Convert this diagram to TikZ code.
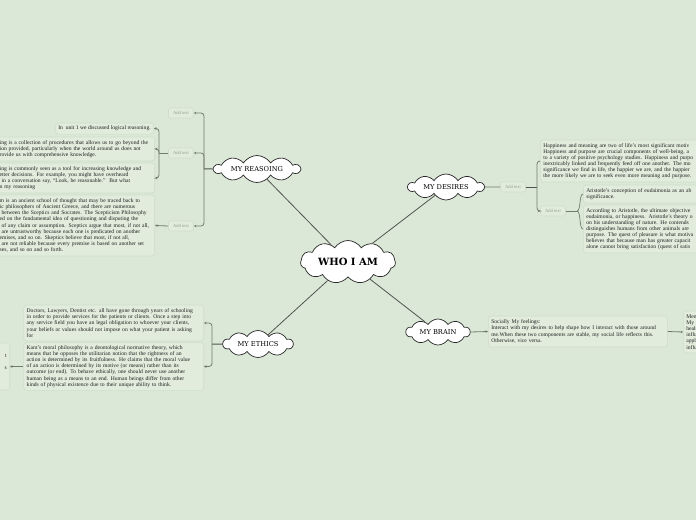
\documentclass[tikz,border=0pt]{standalone}
\usepackage{fontspec}
\setmainfont{Liberation Serif}
\newfontfamily\slabfont{DejaVu Serif}
\usetikzlibrary{shapes.symbols,arrows.meta}
\definecolor{bg}{RGB}{220,232,215}
\definecolor{boxfill}{RGB}{225,236,221}
\definecolor{boxline}{RGB}{207,221,202}
\definecolor{hubline}{RGB}{80,84,80}
\definecolor{brk}{RGB}{112,122,110}
\definecolor{addtxt}{RGB}{145,158,142}
\tikzset{
  bubble/.style={cloud, cloud ignores aspect, cloud puffs=10, cloud puff arc=115, draw=black!85, fill=white,
    line width=0.7pt, font=\slabfont\fontsize{6.7}{7.5}\selectfont, inner sep=0pt},
  tbox/.style={draw=boxline, fill=boxfill, rounded corners=3pt, line width=0.6pt,
    align=left, font=\fontsize{5.6}{6.1}\selectfont, inner sep=3pt, text=black!88},
  addbox/.style={draw=boxline, fill=boxfill, rounded corners=2pt, line width=0.6pt,
    font=\fontsize{4.6}{5}\selectfont, text=addtxt, minimum width=25pt, minimum height=10pt, inner sep=1pt},
  hub/.style={draw=hubline, line width=0.8pt},
  brkline/.style={draw=brk, line width=0.8pt, rounded corners=3pt},
  brkarrow/.style={brkline, -{Stealth[length=2.5pt,width=2.5pt]}}
}
\begin{document}
\begin{tikzpicture}[x=1pt,y=-1pt]
\fill[bg] (0,0) rectangle (696,520);
\useasboundingbox (0,0) rectangle (696,520);

% central and main clouds
\node[bubble, cloud puffs=11, minimum width=95pt, minimum height=43pt, font=\slabfont\bfseries\fontsize{10}{12}\selectfont] (who) at (348,262) {WHO I AM};
\node[bubble, minimum width=86pt, minimum height=27pt] (reason) at (257,169) {MY REASOING};
\node[bubble, minimum width=76pt, minimum height=26pt] (desire) at (446,187) {MY DESIRES};
\node[bubble, minimum width=64pt, minimum height=26pt] (brain) at (438,332) {MY BRAIN};
\node[bubble, minimum width=70pt, minimum height=27pt] (ethics) at (258,344) {MY ETHICS};

\draw[hub] (who) -- (reason);
\draw[hub] (who) -- (desire);
\draw[hub] (who) -- (brain);
\draw[hub] (who) -- (ethics);

% ---------------- reasoning branch
\node[addbox] (a1) at (181,113) {Add text};
\node[addbox] (a2) at (181,153) {Add text};
\node[addbox] (a3) at (181,226) {Add text};

\node[tbox, anchor=east, minimum height=11pt] (r1) at (154,128.5) {In\ \ unit 1 we discussed logical reasoning.};
\node[tbox, anchor=east, text width=152pt, minimum height=24pt] (r2) at (155,149) {%
ing is a collection of procedures that allows us to go beyond the\\
ion provided, particularly when the world around us does not\\
rovide us with comprehensive knowledge.};
\node[tbox, anchor=east, text width=152pt, minimum height=30pt] (r3) at (155,178) {%
ing is commonly seen as a tool for increasing knowledge and\\
etter decisions. For example, you might have overheard\\
\ in a conversation say, ``Look, be reasonable.''\ \ But what\\
n my reasoning};
\node[tbox, anchor=east, text width=152pt, minimum height=61pt] (r4) at (155,225.5) {%
m is an ancient school of thought that may be traced back to\\
ic philosophers of Ancient Greece, and there are numerous\\
\ between the Sceptics and Socrates. The Scepticism Philosophy\\
ed on the fundamental idea of questioning and disputing the\\
\ of any claim or assumption. Sceptics argue that most, if not all,\\
\ are untrustworthy because each one is predicated on another\\
emises, and so on. Skeptics believe that most, if not all,\\
\ are not reliable because every premise is based on another set\\
ses, and so on and so forth.};

\coordinate (rj) at (204,169);
\draw[hub, line width=1pt] (reason.west) -- (rj);
\draw[brkarrow] (rj) |- (a1.east);
\draw[brkarrow] (rj) |- (a2.east);
\draw[brkarrow] (rj) |- (a3.east);

\coordinate (rj2) at (159,153);
\draw[brkline] (a2.west) -- (rj2);
\draw[brkarrow] (rj2) |- (r1.east);
\draw[brkarrow] (rj2) |- (r2.east);
\draw[brkarrow] (rj2) |- (r3.east);
\draw[brkarrow] (a3.west) -- (r4.east);

% ---------------- desires branch
\node[addbox] (ad1) at (513,187) {Add text};
\node[addbox] (ad2) at (553,211) {Add text};
\node[tbox, anchor=west, text width=170pt, minimum height=42pt] (d1) at (540,161) {%
Happiness and meaning are two of life's most significant motiv\\
Happiness and purpose are crucial components of well-being, a\\
to a variety of positive psychology studies. Happiness and purpo\\
inextricably linked and frequently feed off one another. The mo\\
significance we find in life, the happier we are, and the happier\\
the more likely we are to seek even more meaning and purpose.};
\node[tbox, anchor=west, text width=130pt, minimum height=18pt] (d2) at (583,194) {%
Aristotle's conception of eudaimonia as an ab\\
significance.};
\node[tbox, anchor=west, text width=130pt, minimum height=48pt] (d3) at (583,229) {%
According to Aristotle, the ultimate objective\\
eudaimonia, or happiness. Aristotle's theory o\\
on his understanding of nature. He contends\\
distinguishes humans from other animals are\\
purpose. The quest of pleasure is what motiva\\
believes that because man has greater capacit\\
alone cannot bring satisfaction (quest of satis};

\draw[brkline] (desire.east) -- (ad1.west);
\coordinate (dj) at (537,187);
\draw[hub, line width=1pt] (ad1.east) -- (dj);
\draw[brkline] (dj) |- (d1.west);
\draw[brkarrow] (dj) |- (ad2.west);
\coordinate (dj2) at (577,211);
\draw[brkline] (ad2.east) -- (dj2);
\draw[brk, line width=0.7pt] (dj2) .. controls (581,211) and (579,194) .. (d2.west);
\draw[brk, line width=0.7pt] (dj2) .. controls (581,211) and (579,229) .. (d3.west);

% ---------------- brain branch
\node[tbox, anchor=west, text width=173pt, minimum height=31pt] (b1) at (488,331.5) {%
Socially My feelings:\\
Interact with my desires to help shape how I interact with those around\\
me.When these two components are stable, my social life reflects this.\\
Otherwise, vice versa.};
\node[tbox, anchor=west, text width=40pt, minimum height=42pt] (b2) at (683,332) {%
Ment\\My e\\healt\\influ\\appli\\influ};
\draw[brkarrow] (brain.east) -- (b1.west);
\draw[brkarrow] (b1.east) -- (b2.west);

% ---------------- ethics branch
\node[tbox, anchor=east, text width=174pt, minimum height=36pt] (e1) at (204,323) {%
Doctors, Lawyers, Dentist etc. all have gone through years of schooling\\
in order to provide services for the patients or clients. Once a step into\\
any service field you have an legal obligation to whoever your clients,\\
your beliefs or values should not impose on what your patient is asking\\
for};
\node[tbox, anchor=east, text width=174pt, minimum height=47pt] (e2) at (204,366.5) {%
Kant's moral philosophy is a deontological normative theory, which\\
means that he opposes the utilitarian notion that the rightness of an\\
action is determined by its fruitfulness. He claims that the moral value\\
of an action is determined by its motive (or means) rather than its\\
outcome (or end). To behave ethically, one should never use another\\
human being as a means to an end. Human beings differ from other\\
kinds of physical existence due to their unique ability to think.};
\node[tbox, anchor=east, text width=40pt, align=right, minimum height=47pt] (e3) at (10,366.5) {%
~\\t\\~\\s\\~\\~};

\coordinate (ej) at (212,344);
\draw[hub, line width=1pt] (ethics.west) -- (ej);
\draw[brkarrow] (ej) |- (e1.east);
\draw[brkarrow] (ej) |- (e2.east);
\draw[brkarrow] (e2.west) -- (e3.east);
\end{tikzpicture}
\end{document}
